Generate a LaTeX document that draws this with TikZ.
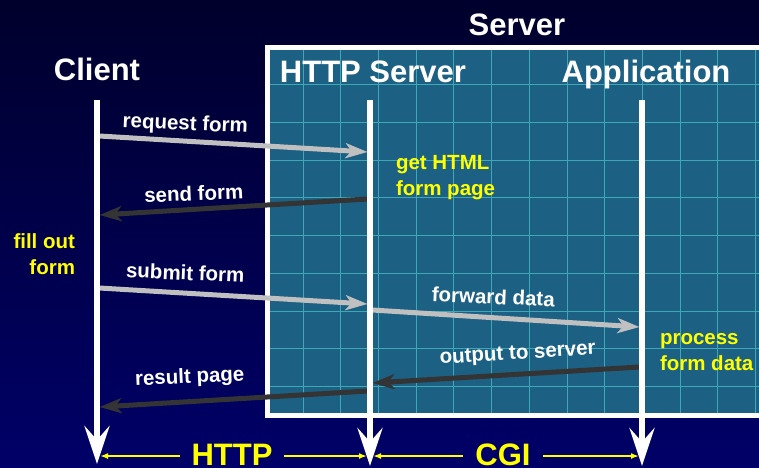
\documentclass[tikz,border=0pt]{standalone}
\usepackage{fontspec}
\setmainfont{Liberation Sans}
\usetikzlibrary{arrows.meta}
\definecolor{navytop}{RGB}{0,0,44}
\definecolor{navybot}{RGB}{0,0,104}
\definecolor{boxfill}{RGB}{28,96,132}
\definecolor{gridline}{RGB}{62,168,182}
\definecolor{msglight}{RGB}{192,192,192}
\definecolor{msgdark}{RGB}{52,52,52}
\definecolor{notecol}{RGB}{255,255,0}

\begin{document}
\begin{tikzpicture}[x=1pt,y=-1pt,
  every node/.style={inner sep=0pt, outer sep=0pt},
  title/.style={text=white, anchor=base, font=\fontsize{31}{33}\selectfont\bfseries},
  msg/.style={text=white, anchor=base, font=\fontsize{20.5}{23}\selectfont\bfseries},
  note/.style={text=notecol, font=\fontsize{20.5}{25.5}\selectfont\bfseries},
  proto/.style={text=notecol, anchor=base, inner xsep=12pt, font=\fontsize{31}{33}\selectfont\bfseries},
  life/.style={white, line width=5.5pt, -{Stealth[length=38pt,width=25pt,inset=14pt]}},
  light/.style={msglight, line width=5pt, -{Stealth[length=22pt,width=15pt,inset=6pt]}},
  dark/.style={msgdark, line width=5pt, -{Stealth[length=22pt,width=15pt,inset=6pt]}},
  span/.style={notecol, line width=1.6pt, -{Latex[length=8pt,width=6pt]}}]

\clip (0,0) rectangle (759,467);
\shade[top color=navytop, bottom color=navybot] (0,0) rectangle (759,467);

% server box with grid
\fill[boxfill] (267.5,47.5) rectangle (800,415.5);
\foreach \x in {303,340.7,...,760}
  \draw[gridline, line width=0.8pt] (\x,50) -- (\x,413);
\foreach \y in {84.7,122.4,...,412}
  \draw[gridline, line width=0.8pt] (270,\y) -- (800,\y);
\draw[white, line width=5pt] (267.5,47.5) rectangle (800,415.5);

\node[title] (server) at (517,35) {Server};
\node[title] (client) at (97,80) {Client};
\node[title] (http) at (373,82) {HTTP Server};
\node[title] (app) at (646,82) {Application};

% lifelines
\coordinate (ctop) at (97,100);
\coordinate (cbot) at (97,464);
\coordinate (htop) at (370,100);
\coordinate (hbot) at (370,466);
\coordinate (atop) at (642,100);
\coordinate (abot) at (642,466);

% messages
\coordinate (c1) at (99.5,136);
\coordinate (h1) at (367.5,152);
\coordinate (h2) at (367.5,199);
\coordinate (c2) at (99.5,215);
\coordinate (c3) at (99.5,288);
\coordinate (h3) at (367.5,304);
\coordinate (h4) at (372.5,310);
\coordinate (a4) at (639.5,327);
\coordinate (a5) at (639.5,367);
\coordinate (h5) at (372.5,383);
\coordinate (h6) at (367.5,391);
\coordinate (c6) at (99.5,407);

\draw[light] (c1) -- (h1);
\draw[dark] (h2) -- (c2);
\draw[light] (c3) -- (h3);
\draw[light] (h4) -- (a4);
\draw[dark] (a5) -- (h5);
\draw[dark] (h6) -- (c6);

\node[msg, rotate=-2.5] (reqform) at (185,130) {request form};
\node[msg, rotate=2.5] (sendform) at (194,200.5) {send form};
\node[msg, rotate=-2.5] (submitform) at (185,280) {submit form};
\node[msg, rotate=-2.5] (fwddata) at (493,304) {forward data};
\node[msg, rotate=3.5] (output) at (518,359) {output to server};
\node[msg, rotate=2.5] (result) at (190,383) {result page};

\node[note, anchor=base west, align=left] (gethtml) at (396,195) {get HTML\\form page};
\node[note, anchor=base east, align=right] (fillout) at (75,274) {fill out\\form};
\node[note, anchor=base west, align=left] (process) at (660,370) {process\\form data};

\draw[life] (ctop) -- (cbot);
\draw[life] (htop) -- (hbot);
\draw[life] (atop) -- (abot);

% protocols
\coordinate (cb) at (100,456);
\coordinate (hb1) at (367,456);
\coordinate (hb2) at (373,456);
\coordinate (ab) at (639,456);
\node[proto] (httplbl) at (232,465) {HTTP};
\node[proto] (cgilbl) at (503,465) {CGI};
\draw[span] (httplbl.west |- cb) -- (cb);
\draw[span] (httplbl.east |- cb) -- (hb1);
\draw[span] (cgilbl.west |- cb) -- (hb2);
\draw[span] (cgilbl.east |- cb) -- (ab);
\end{tikzpicture}
\end{document}
